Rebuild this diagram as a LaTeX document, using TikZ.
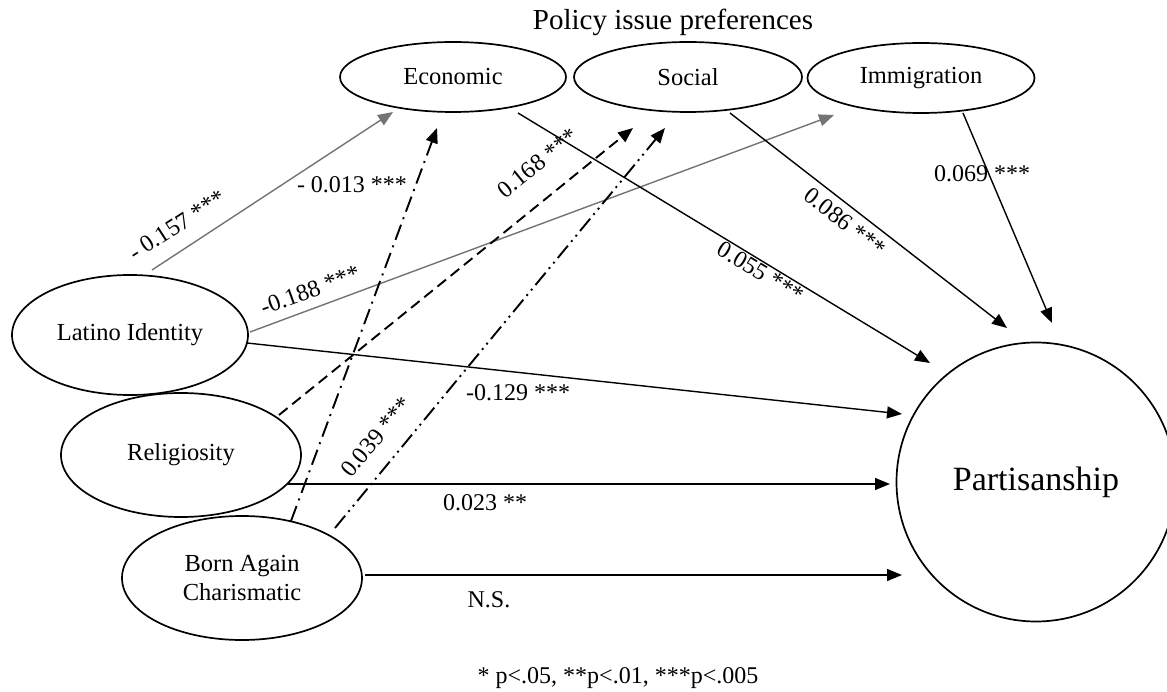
\documentclass[tikz,border=0pt]{standalone}
\usepackage{fontspec}
\setmainfont{Liberation Serif}
\usetikzlibrary{arrows.meta,calc,shapes.geometric}

\begin{document}
\begin{tikzpicture}[x=1pt,y=-1pt,
  latent/.style={draw, ellipse, line width=1.7pt, inner sep=0pt, align=center,
    font=\fontsize{24.5}{29}\selectfont},
  coef/.style={font=\fontsize{24}{28}\selectfont, inner sep=0pt},
  link/.style={line width=1.4pt, -{Triangle[length=15pt,width=12pt]}},
  grey link/.style={link, draw=black!55},
  dashes/.style={line width=1.9pt, dash pattern=on 11pt off 6pt},
  dashdot/.style={line width=1.9pt, dash pattern=on 16pt off 6pt on 2pt off 6pt},
  dashdotdot/.style={line width=1.9pt, dash pattern=on 16pt off 5pt on 2pt off 5pt on 2pt off 5pt},
]
\useasboundingbox (0,0) rectangle (1167,692);

% heading over the three issue factors
\node[font=\fontsize{29}{34}\selectfont] (title) at (673,22) {Policy issue preferences};

% latent variables
\node[latent, minimum width=226pt, minimum height=70pt] (econ) at (453,77) {Economic};
\node[latent, minimum width=228pt, minimum height=70pt] (soc) at (688,77) {Social};
\node[latent, minimum width=227pt, minimum height=70pt] (imm) at (921,78) {Immigration};
\node[latent, minimum width=236pt, minimum height=120pt] (lat) at (130,335) {Latino Identity};
\node[latent, minimum width=240pt, minimum height=124pt] (rel) at (181,455) {Religiosity};
\node[latent, minimum width=240pt, minimum height=124pt] (born) at (242,578) {Born Again\\Charismatic};
\node[draw, circle, line width=1.7pt, minimum size=279pt, inner sep=0pt,
  font=\fontsize{34}{40}\selectfont] (part) at (1036,482) {Partisanship};

% paths from Latino identity
\draw[grey link] ($(lat)+(22,-65)$) -- ($(econ)+(-60,35)$);
\draw[grey link] ($(lat)+(120,-3)$) -- ($(imm)+(-87,37)$);
\draw[link] ($(lat)+(117,8)$) -- ($(part)+(-134,-68)$);

% issue preferences to partisanship
\draw[link] ($(econ)+(65,36)$) -- ($(part)+(-106,-119)$);
\draw[link] ($(soc)+(42,36)$) -- ($(part)+(-29,-154)$);
\draw[link] ($(imm)+(42,35)$) -- ($(part)+(16,-159)$);

% religious variables
\draw[link, dashes] ($(rel)+(98,-40)$) -- ($(soc)+(-55,51)$);
\draw[link, dashdot] ($(born)+(49,-57)$) -- ($(econ)+(-16,51)$);
\draw[link, dashdotdot] ($(born)+(93,-50)$) -- ($(soc)+(-23,51)$);
\draw[link] ($(rel)+(106,29)$) -- ($(part)+(-146,2)$);
\draw[link] ($(born)+(123,-3)$) -- ($(part)+(-134,93)$);

% coefficients
\node[coef, rotate=33] (c1) at (177,225) {- 0.157 ***};
\node[coef] (c2) at (352,185) {- 0.013 ***};
\node[coef, rotate=39] (c3) at (538,163) {0.168 ***};
\node[coef, rotate=20] (c4) at (310,290) {-0.188 ***};
\node[coef, rotate=-31] (c5) at (761,272) {0.055 ***};
\node[coef, rotate=-38] (c6) at (845,222) {0.086 ***};
\node[coef] (c7) at (982,174) {0.069 ***};
\node[coef] (c8) at (518,393) {-0.129 ***};
\node[coef, rotate=50] (c9) at (376,437) {0.039 ***};
\node[coef] (c10) at (485,503) {0.023 **};
\node[coef] (c11) at (489,600) {N.S.};

% significance key
\node[coef] (key) at (618,678) {* p<.05, **p<.01, ***p<.005};
\end{tikzpicture}
\end{document}
